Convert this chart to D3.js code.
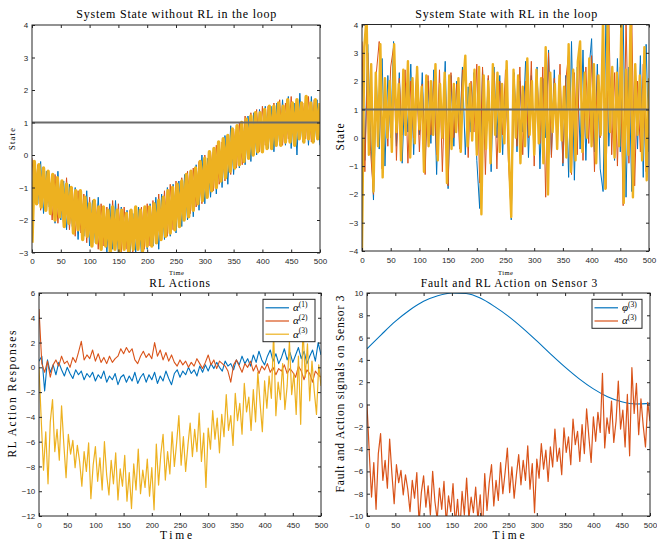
<!DOCTYPE html>
<html>
<head>
<meta charset="utf-8">
<script src="https://cdn.jsdelivr.net/npm/d3@7"></script>
<style>
body { margin: 0; background: #fff; }
svg { display: block; }
</style>
</head>
<body>
<svg id="fig" width="657" height="540"></svg>
<script>
// ---- data ----
var xTicks = [0, 50, 100, 150, 200, 250, 300, 350, 400, 450, 500];
var yTicksA = [-3, -2, -1, 0, 1, 2, 3, 4];
var yTicksB = [-4, -3, -2, -1, 0, 1, 2, 3, 4];
var yTicksC = [-12, -10, -8, -6, -4, -2, 0, 2, 4, 6];
var yTicksD = [-10, -8, -6, -4, -2, 0, 2, 4, 6, 8, 10];
var reference = 1;

// panel 1 : state without RL (yellow every 4 steps, blue/orange every 5)
var noRL_x3 = [-2.7,-0.2,-1.5,-0.3,-1.6,-0.4,-1.7,-0.5,-1.8,-0.6,
  -2.0,-0.7,-1.9,-0.8,-2.2,-0.9,-2.1,-1.0,-2.4,-1.1,
  -2.3,-1.1,-2.6,-1.3,-2.5,-1.5,-2.8,-1.4,-2.7,-1.6,
  -2.9,-1.6,-2.8,-1.7,-3.0,-1.6,-2.9,-1.7,-3.0,-1.7,
  -2.9,-1.8,-3.0,-1.7,-2.9,-1.6,-2.9,-1.7,-2.95,-1.6,
  -2.8,-1.6,-2.8,-1.5,-2.7,-1.4,-2.6,-1.3,-2.5,-1.1,
  -2.4,-1.0,-2.3,-0.9,-2.2,-0.8,-2.0,-0.6,-1.9,-0.5,
  -1.7,-0.4,-1.5,-0.2,-1.4,-0.1,-1.3,0.1,-1.1,0.2,
  -1.0,0.4,-0.8,0.5,-0.7,0.6,-0.5,0.8,-0.4,0.9,
  -0.3,1.0,-0.2,1.1,-0.1,1.2,0.0,1.3,0.1,1.3,
  0.1,1.4,0.2,1.5,0.2,1.5,0.3,1.6,0.3,1.5,
  0.4,1.7,0.4,1.6,0.3,1.7,0.5,1.6,0.4,1.8,
  0.5,1.6,0.4,1.7,0.5,1.6];
var noRL_x1 = [-1.2,-0.3,-1.5,-0.2,-1.8,-0.5,-1.6,-0.6,-2.1,-0.5,
  -2.0,-0.8,-2.3,-0.9,-2.2,-1.0,-2.6,-1.2,-2.5,-1.1,
  -2.8,-1.4,-2.7,-1.3,-2.9,-1.6,-3.0,-1.5,-2.9,-1.4,
  -3.1,-1.6,-2.9,-1.7,-3.1,-1.8,-3.0,-1.6,-3.1,-1.7,
  -2.9,-1.5,-2.8,-1.3,-2.9,-1.2,-2.6,-1.0,-2.5,-0.9,
  -2.4,-0.8,-2.2,-0.6,-2.0,-0.5,-1.9,-0.3,-1.7,0.0,
  -1.5,-0.1,-1.3,0.2,-1.2,0.4,-1.0,0.6,-0.9,0.9,
  -0.6,0.8,-0.4,1.0,-0.3,1.2,-0.2,1.3,0.0,1.4,
  0.1,1.5,0.2,1.5,0.1,1.6,0.3,1.7,0.3,1.8,
  0.2,1.6,0.0,1.9,0.4,1.7,0.3,1.8,0.4,1.7,
  0.3];
var noRL_x2 = [-0.1,-1.4,-0.3,-1.7,-0.4,-1.6,-0.7,-2.0,-0.6,-2.1,
  -0.9,-2.2,-0.7,-2.3,-1.0,-2.5,-1.1,-2.4,-1.2,-2.7,
  -1.3,-2.8,-1.4,-2.9,-1.5,-2.8,-1.6,-3.0,-1.4,-2.9,
  -1.5,-3.0,-1.6,-2.9,-1.7,-3.0,-1.6,-2.9,-1.6,-2.9,
  -1.5,-2.8,-1.4,-2.7,-1.2,-2.6,-1.1,-2.5,-0.9,-2.3,
  -0.8,-2.2,-0.7,-2.0,-0.5,-1.8,-0.4,-1.6,-0.2,-1.5,
  0.0,-1.3,0.1,-1.1,0.3,-0.9,0.4,-0.8,0.6,-0.6,
  0.8,-0.4,1.0,-0.3,1.2,-0.1,1.3,0.0,1.4,0.1,
  1.5,0.3,1.5,0.2,1.6,0.4,1.7,0.3,1.6,0.5,
  1.8,0.3,1.7,0.6,1.6,0.5,1.8,0.4,1.7,0.6,
  1.5];

// panel 2 : state with RL
var withRL_x3 = [-4.0,3.2,4.3,-0.6,2.6,-1.9,2.3,-0.3,3.3,-1.4,
  2.1,0.0,2.0,-0.5,3.3,0.2,1.9,-0.8,2.4,0.1,
  2.7,-0.7,2.1,-0.2,2.5,0.3,1.8,-1.2,2.2,-0.3,
  2.0,0.1,2.6,-0.8,1.9,0.0,2.3,-1.6,2.2,-0.4,
  1.9,0.2,2.1,-0.5,1.8,2.9,-0.3,1.9,-0.1,2.4,
  -0.6,2.5,-2.7,2.2,-0.4,2.0,-0.9,2.6,0.1,2.3,
  -0.5,1.9,-0.2,2.7,-0.7,-2.8,2.4,0.0,2.2,-0.9,
  1.8,-0.3,2.8,0.1,2.0,-0.6,2.4,-0.2,2.1,-0.9,
  3.2,-2.0,2.3,0.2,1.9,-0.4,2.2,-0.1,1.8,-0.7,
  3.3,-1.2,2.4,-0.8,2.7,3.4,-0.5,2.3,0.0,2.8,
  -0.3,2.6,-0.9,2.2,0.1,4.3,-1.8,4.2,0.2,2.5,
  -0.7,2.3,-0.3,4.2,-2.3,2.4,-0.6,4.3,-2.1,2.6,
  0.1,2.2,-0.8,3.2,-1.5,2.1];
var withRL_x1 = [2.6,-0.8,3.3,0.2,-2.2,2.0,-0.4,2.8,-1.0,2.2,
  0.0,3.4,-0.3,2.3,-0.9,1.9,0.2,2.6,-0.6,2.1,
  0.1,2.3,-0.8,2.0,-0.2,2.4,-1.3,1.9,0.3,2.7,
  -1.8,2.2,-0.3,2.0,0.1,2.5,-0.6,1.8,0.2,2.3,
  -0.8,-2.5,2.4,-0.2,2.1,-1.2,2.5,0.0,2.2,-0.6,
  1.9,-0.1,-2.9,2.3,-0.5,2.0,0.2,2.7,-0.7,2.2,
  -0.3,2.5,-1.1,2.1,0.0,3.1,-0.6,2.4,-0.2,2.0,
  -1.0,2.2,-1.4,3.4,-1.5,2.5,-0.4,3.1,-0.8,2.3,
  3.5,-0.5,2.6,-1.1,-1.9,4.3,-0.3,2.4,-0.8,2.8,
  -0.5,4.2,-2.1,2.5,-1.9,2.2,-0.4,2.9,-1.4,3.3,
  -0.5];
var withRL_x2 = [3.4,-1.2,3.0,-0.5,-2.0,2.3,3.4,-1.1,2.0,-0.3,
  2.5,3.2,-0.8,2.1,0.1,2.4,-0.9,2.0,0.0,2.3,
  -0.5,1.9,-1.3,2.2,0.1,2.0,-0.6,2.4,-1.2,2.1,
  -1.7,2.3,0.0,1.9,-0.4,2.4,2.2,-0.7,2.0,0.2,
  2.6,-1.6,2.5,-1.3,2.2,-0.4,2.3,-1.1,2.0,0.1,
  2.4,-0.8,-2.7,2.1,-0.3,2.5,-0.6,2.0,0.0,2.7,
  -1.0,2.2,-0.2,2.5,-2.1,3.0,-0.7,2.1,0.1,2.6,
  -0.9,2.0,3.0,-1.3,2.3,-0.6,3.4,-0.8,2.5,-0.2,
  2.9,-1.2,2.2,0.0,3.4,-1.8,4.3,-0.6,2.3,-1.0,
  2.5,-2.4,4.2,-0.9,4.2,-1.7,2.0,-0.5,2.6,-1.2,
  1.8];

// panel 3 : RL actions (alpha3 every 4 steps, alpha1/alpha2 every 5)
var alpha3 = [0.0,-4.3,-8.3,-5.2,-9.4,-4.4,-2.6,-6.8,-5.0,-7.5,
  -3.1,-6.2,-8.9,-5.4,-7.0,-5.9,-8.1,-6.3,-7.6,-9.6,
  -6.8,-8.4,-6.1,-10.6,-7.9,-6.4,-9.2,-7.3,-9.9,-6.0,
  -8.7,-10.3,-7.5,-9.4,-6.9,-10.7,-8.2,-9.6,-7.1,-10.8,
  -8.5,-11.4,-7.8,-9.9,-6.6,-10.2,-8.3,-9.7,-7.4,-10.4,
  -8.1,-11.5,-6.2,-9.5,-7.0,-5.4,-9.1,-6.8,-8.6,-5.2,
  -8.0,-6.1,-3.9,-7.9,-5.6,-8.4,-6.3,-4.5,-7.2,-5.0,
  -6.8,-3.7,-7.6,-5.3,-9.7,-4.9,-6.6,-3.5,-5.8,-4.1,
  -6.9,-3.8,-5.6,-2.2,-5.1,-3.9,-6.3,-2.1,-4.3,-2.9,
  -5.4,-1.3,-3.6,-2.4,-5.1,-1.8,-4.4,-0.4,-2.9,-5.2,
  -1.1,-3.3,-0.7,-2.5,2.8,-3.9,-1.2,-2.6,0.3,-3.4,
  -1.5,2.1,-2.2,-0.5,-3.8,0.9,-4.6,3.3,-0.8,1.9,
  -2.7,0.5,-1.9,-3.8,0.2,-1.5];
var alpha1 = [0.5,0.9,-1.9,0.6,-0.4,0.2,-0.6,0.4,-0.2,-0.7,
  0.0,-0.5,-0.9,-0.2,-0.6,-0.3,-1.0,-0.5,-0.8,-0.4,
  -1.1,-0.6,-0.9,-0.3,-1.2,-0.7,-1.0,-0.5,-1.4,-0.8,
  -0.6,-1.2,-0.7,-1.1,-0.4,-1.3,-0.8,-0.5,-1.2,-0.6,
  -1.0,-0.4,-1.3,-0.7,-1.1,-0.3,-0.9,-1.4,-0.5,-0.2,
  -0.8,-0.3,-0.6,0.0,-0.5,-0.2,-0.7,0.1,-0.4,0.2,
  -0.3,0.3,-0.1,0.4,0.0,-0.3,0.5,0.1,0.3,-0.2,
  0.6,0.2,0.9,0.3,0.7,0.1,1.0,0.4,1.3,0.6,
  0.2,0.9,1.4,0.5,1.1,0.3,0.8,1.5,0.6,1.2,
  0.4,1.0,1.6,0.7,1.3,0.3,0.9,1.4,0.5,2.0,
  1.0];
var alpha2 = [4.7,0.3,-0.4,0.5,-0.8,0.2,0.6,0.1,0.9,0.3,
  0.5,0.0,0.8,0.4,1.2,2.1,0.6,1.0,0.7,1.4,
  0.5,1.1,0.4,0.8,0.3,0.9,0.4,0.7,0.9,1.5,
  1.1,1.6,1.2,1.5,0.6,0.3,0.9,1.3,0.8,1.1,
  0.7,2.0,0.9,1.4,0.6,1.2,0.5,1.0,0.4,0.1,
  0.6,0.2,0.5,0.0,0.4,0.1,0.7,0.3,-0.1,0.4,
  1.0,0.2,0.6,-0.1,0.5,0.3,0.1,-0.3,-1.2,0.2,
  0.6,0.1,-0.4,0.3,0.0,0.5,-0.3,0.2,-0.5,0.1,
  -0.2,0.3,-0.4,0.0,-0.6,-0.1,-0.3,0.2,-0.5,-0.1,
  -0.4,-0.8,0.1,-0.3,-1.0,-0.2,-0.5,-1.2,-0.3,-0.6,
  -0.8];

// panel 4 : fault phi3 (every 25 steps)
var phi3 = [5.0,6.25,7.45,8.45,9.25,9.75,10.0,9.95,9.55,8.8,7.9,
  6.85,5.7,4.5,3.35,2.3,1.4,0.7,0.25,0.05,0.1];

// ---- drawing ----
var blue = "#0072BD", red = "#D95319", yellow = "#EDB120", gray = "#6a6a6a";
var axisCol = "#262626";
var serif = "'Liberation Serif','Times New Roman',serif";
var sans = "'Liberation Sans',Arial,Helvetica,sans-serif";

var svg = d3.select("#fig");

function makePanel(id, box, yDom, yTicks) {
	var w = box.r - box.l, h = box.b - box.t;
	var g = svg.append("g").attr("transform", "translate(" + box.l + "," + box.t + ")");
	var x = d3.scaleLinear().domain([0, 500]).range([0, w]);
	var y = d3.scaleLinear().domain(yDom).range([h, 0]);
	g.append("clipPath").attr("id", "clip" + id)
		.append("rect").attr("width", w).attr("height", h);
	var plot = g.append("g").attr("clip-path", "url(#clip" + id + ")");
	return {id: id, g: g, plot: plot, x: x, y: y, w: w, h: h, yTicks: yTicks};
}

function addLine(p, vals, step, color, width) {
	var line = d3.line()
		.x(function(d, i) { return p.x(i * step); })
		.y(function(d) { return p.y(d); });
	p.plot.append("path").datum(vals)
		.attr("d", line)
		.attr("fill", "none")
		.attr("stroke", color)
		.attr("stroke-width", width || 1)
		.attr("stroke-linejoin", "round");
}

function addHLine(p, v, color, width) {
	p.plot.append("line")
		.attr("x1", 0).attr("x2", p.w)
		.attr("y1", p.y(v)).attr("y2", p.y(v))
		.attr("stroke", color).attr("stroke-width", width);
}

function drawAxes(p) {
	var fmt = d3.format("d");
	var defs = [
		{a: d3.axisBottom(p.x).tickValues(xTicks).tickFormat(fmt).tickPadding(6), tr: "translate(0," + p.h + ")"},
		{a: d3.axisTop(p.x).tickValues(xTicks).tickFormat(""), tr: "translate(0,0)"},
		{a: d3.axisLeft(p.y).tickValues(p.yTicks).tickFormat(fmt).tickPadding(3.7), tr: "translate(0,0)"},
		{a: d3.axisRight(p.y).tickValues(p.yTicks).tickFormat(""), tr: "translate(" + p.w + ",0)"}
	];
	defs.forEach(function(d) {
		var ag = p.g.append("g").attr("transform", d.tr)
			.call(d.a.tickSizeInner(-3).tickSizeOuter(0));
		ag.select(".domain").remove();
		ag.selectAll(".tick line").attr("stroke", axisCol);
		ag.selectAll(".tick text").attr("fill", axisCol)
			.attr("font-family", sans).attr("font-size", 8);
	});
	p.g.append("rect").attr("width", p.w).attr("height", p.h)
		.attr("fill", "none").attr("stroke", axisCol).attr("stroke-width", 1);
}

// serif text stretched to the width it has in the picture
function label(x, y, txt, size, width, rotate) {
	var t = svg.append("text")
		.attr("font-family", serif).attr("font-size", size)
		.attr("fill", "#000").attr("text-anchor", "middle")
		.attr("textLength", width).attr("lengthAdjust", "spacing")
		.text(txt);
	if (rotate) t.attr("transform", "translate(" + x + "," + y + ") rotate(-90)");
	else t.attr("x", x).attr("y", y);
	return t;
}

function legend(p, bx, by, bw, bh, items) {
	var lg = p.g.append("g").attr("transform", "translate(" + bx + "," + by + ")");
	lg.append("rect").attr("width", bw).attr("height", bh)
		.attr("fill", "#fff").attr("stroke", axisCol).attr("stroke-width", 1);
	items.forEach(function(it, i) {
		var yy = 8.5 + i * 13.2;
		lg.append("line").attr("x1", 2.5).attr("x2", 26).attr("y1", yy).attr("y2", yy)
			.attr("stroke", it.color).attr("stroke-width", 1.2);
		var t = lg.append("text").attr("x", 30).attr("y", yy + 3.5)
			.attr("font-family", serif).attr("font-size", 11).attr("fill", "#000");
		t.append("tspan").attr("font-style", "italic").text(it.sym);
		t.append("tspan").attr("font-size", 7.5).attr("dy", -4.5).text(it.sup);
	});
}

// panel 1
var p1 = makePanel(1, {l: 32, t: 25, r: 320, b: 252.5}, [-3, 4], yTicksA);
addLine(p1, noRL_x1, 5, blue, 1);
addLine(p1, noRL_x2, 5, red, 1);
addLine(p1, noRL_x3, 4, yellow, 3.4);
addHLine(p1, reference, gray, 2);
drawAxes(p1);

// panel 2
var p2 = makePanel(2, {l: 362, t: 24.5, r: 649, b: 251}, [-4, 4], yTicksB);
addLine(p2, withRL_x1, 5, blue, 1);
addLine(p2, withRL_x2, 5, red, 1);
addLine(p2, withRL_x3, 4, yellow, 2.4);
addHLine(p2, reference, gray, 2);
drawAxes(p2);

// panel 3
var p3 = makePanel(3, {l: 39, t: 293, r: 321, b: 516}, [-12, 6], yTicksC);
addLine(p3, alpha1, 5, blue, 1.1);
addLine(p3, alpha2, 5, red, 1.1);
addLine(p3, alpha3, 4, yellow, 1.2);
drawAxes(p3);
legend(p3, 224, 6.3, 52, 42.4, [
	{color: blue, sym: "\u03b1", sup: "(1)"},
	{color: red, sym: "\u03b1", sup: "(2)"},
	{color: yellow, sym: "\u03b1", sup: "(3)"}
]);

// panel 4
var p4 = makePanel(4, {l: 367, t: 293, r: 650, b: 516}, [-10, 10], yTicksD);
p4.plot.append("path").datum(phi3)
	.attr("d", d3.line().curve(d3.curveMonotoneX)
		.x(function(d, i) { return p4.x(i * 25); })
		.y(function(d) { return p4.y(d); }))
	.attr("fill", "none").attr("stroke", blue).attr("stroke-width", 1.1);
addLine(p4, alpha3, 4, red, 1.2);
drawAxes(p4);
legend(p4, 225, 6.3, 50, 29, [
	{color: blue, sym: "\u03c6", sup: "(3)"},
	{color: red, sym: "\u03b1", sup: "(3)"}
]);

// titles and axis labels
label(176.3, 18.3, "System State without RL in the loop", 12, 200);
label(506.3, 18.3, "System State with RL in the loop", 12, 182);
label(179.7, 286.5, "RL Actions", 11.5, 60.7);
label(509, 286.5, "Fault and RL Action on Sensor 3", 11.5, 176.7);

label(176.5, 275, "Time", 6.5, 15);
label(505.5, 275, "Time", 6.5, 15);
label(176, 539.3, "Time", 11.5, 32);
label(508.5, 539.3, "Time", 11.5, 32);

label(14.5, 139, "State", 8.5, 22, true);
label(344, 137, "State", 11.5, 27, true);
label(16, 394, "RL Action Responses", 11.5, 127, true);
label(344, 394, "Fault and Action signals on Sensor 3", 11.5, 197, true);
</script>
</body>
</html>
